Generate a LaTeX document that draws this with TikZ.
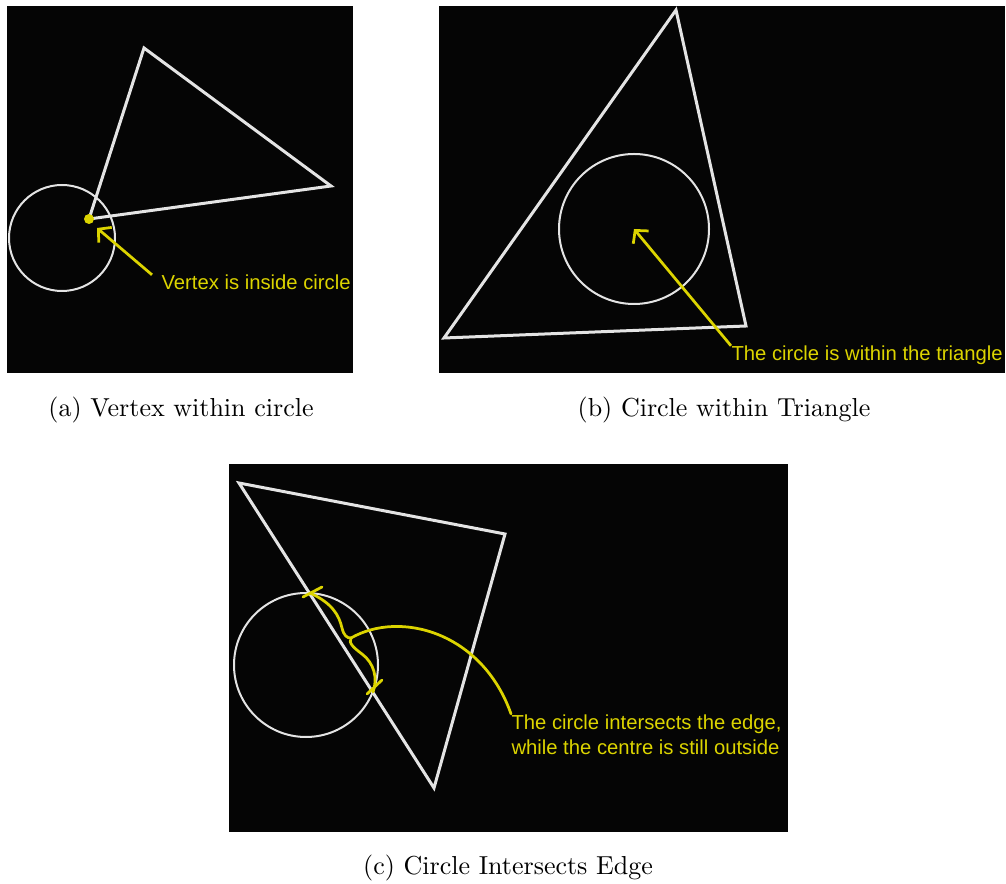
\documentclass[tikz,border=0pt]{standalone}
\usepackage{fontspec}
\usepackage{tikz}
\usetikzlibrary{arrows.meta}
\newfontfamily\notefont{Liberation Sans}
\definecolor{panelbg}{HTML}{050505}
\definecolor{wireline}{HTML}{E4E4E4}
\definecolor{noteyellow}{HTML}{DCD400}

\begin{document}
\begin{tikzpicture}[
  x=0.4pt, y=-0.4pt,
  >={Straight Barb[length=3.6pt,width=8pt]},
  tri/.style={draw=wireline, line width=1.2pt, line join=miter},
  ring/.style={circle, draw=wireline, line width=0.8pt, inner sep=0pt},
  note/.style={noteyellow, inner sep=0pt, align=left,
               font=\notefont\fontsize{8.1}{10}\selectfont},
  pointer/.style={->, noteyellow, line width=1.1pt},
  marker/.style={noteyellow, line width=1.1pt, line cap=round},
  subcap/.style={font=\fontsize{10.4}{12.5}\selectfont, inner sep=0pt},
]
\useasboundingbox (0,0) rectangle (1006,884);

% --- Panel backgrounds ---
\fill[panelbg] (7,6) rectangle (353,373);
\fill[panelbg] (439,6) rectangle (1005,373);
\fill[panelbg] (229,464) rectangle (788,832);

% --- (a) vertex within circle ---
\coordinate (aTop)   at (144,48);
\coordinate (aRight) at (331,186);
\coordinate (aVtx)   at (89,219);
\node[ring, minimum size=42.4pt] (circA) at (62,238) {};
\draw[tri] (aTop) -- (aRight) -- (aVtx) -- cycle;
\fill[noteyellow] (aVtx) circle (2pt);
\coordinate (aTip) at (97,228);
\node[note, anchor=base west] (vtxlabel) at (161,290) {Vertex is inside circle};
\draw[pointer] ([xshift=-3.6pt]vtxlabel.north west) -- (aTip);

% --- (b) circle within triangle ---
\coordinate (bTop)   at (676,10);
\coordinate (bRight) at (746,326);
\coordinate (bLeft)  at (444,338);
\draw[tri] (bTop) -- (bRight) -- (bLeft) -- cycle;
\node[ring, minimum size=60pt] (circB) at (634,229) {};
\node[note, anchor=base west] (inlabel) at (731,361) {The circle is within the triangle};
\draw[pointer] (inlabel.north west) -- (circB.center);

% --- (c) circle intersects edge ---
\coordinate (cTop)   at (239,483);
\coordinate (cRight) at (505,534);
\coordinate (cBot)   at (434,788);
\draw[tri] (cTop) -- (cRight) -- (cBot) -- cycle;
\node[ring, minimum size=57.6pt] (circC) at (306,665) {};
\coordinate (hitTop) at (310,593);
\coordinate (hitBot) at (373,692);
\coordinate (cusp)   at (351,638);
\draw[marker] ([shift={(-7,4)}]hitTop) -- ([shift={(12,-6)}]hitTop);
\draw[marker] ([shift={(-6,2)}]hitBot) -- ([shift={(9,-12)}]hitBot);
\draw[marker] (hitTop) .. controls (332,603) and (339,615) .. (342,628)
  .. controls (344,636) and (347,638) .. (cusp);
\draw[marker] (cusp) .. controls (348,643) and (354,648) .. (362,654)
  .. controls (374,663) and (378,678) .. (hitBot);
\node[note, anchor=base west] (edgelabel) at (511,754)
  {The circle intersects the edge,\\while the centre is still outside};
\draw[marker] (cusp) .. controls (400,610) and (482,632) .. (edgelabel.north west);

% --- Sub-captions ---
\node[subcap] (capA) at (181,410) {(a) Vertex within circle};
\node[subcap] (capB) at (724,410) {(b) Circle within Triangle};
\node[subcap] (capC) at (508,868) {(c) Circle Intersects Edge};

\end{tikzpicture}
\end{document}
